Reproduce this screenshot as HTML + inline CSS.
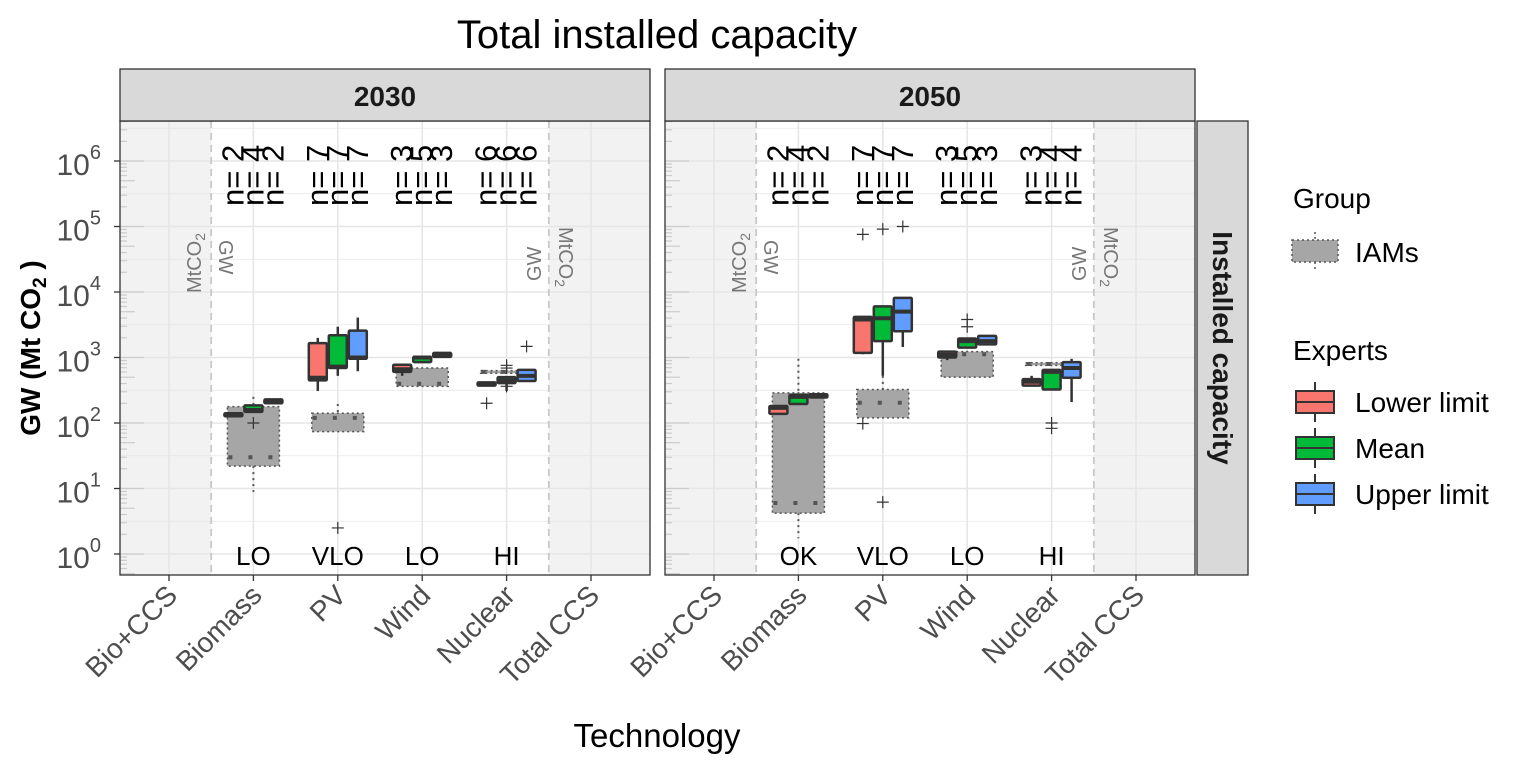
<!DOCTYPE html>
<html><head><meta charset="utf-8"><style>
body{margin:0;background:#fff;}
svg{display:block;font-family:"Liberation Sans",sans-serif;}
</style></head><body>
<svg id="chart" width="1536" height="768" viewBox="0 0 1536 768"></svg>
<script>
const categories=["Bio+CCS","Biomass","PV","Wind","Nuclear","Total CCS"];
const boxCats=["Biomass","PV","Wind","Nuclear"];
const panels=["2030","2050"];
const yTicks=[0,1,2,3,4,5,6];
// [lo,q1,med,q3,hi] per boxCat
const iam2030=[[8.9,22,30,178,251],[74,74,120,141,195],[363,363,398,692,692],[575,575,603,631,631]];
const low2030=[[129,129,135,141,141],[309,447,490,1660,1995],[525,603,661,776,776],[372,372,398,417,417]];
const mean2030=[[148,148,158,186,186],[525,692,724,2188,2951],[851,851,1000,1023,1023],[309,407,447,501,501]];
const up2030=[[200,200,214,229,229],[617,955,1000,2570,4074],[1023,1023,1096,1175,1175],[437,437,525,646,646]];
const iam2050=[[1.74,4.2,6.0,288,955],[120,120,204,324,525],[501,501,1122,1230,1230],[759,759,794,832,832]];
const low2050=[[138,138,170,182,182],[1122,1175,3802,4169,4169],[912,1000,1096,1230,1230],[372,372,427,468,525]];
const mean2050=[[195,195,251,269,269],[525,1778,3981,6026,6026],[1413,1413,1778,1950,1950],[324,324,603,646,646]];
const up2050=[[245,245,263,275,275],[1445,2512,5012,8128,8128],[1585,1585,1778,2138,2138],[209,490,692,851,955]];
// outliers: [panel, cat, series(0 iam,1 low,2 mean,3 up), value]
const outliers=[[0,"Biomass",0,100],[0,"PV",0,2.5],[0,"Nuclear",0,760],[0,"Nuclear",0,690],[0,"Nuclear",0,363],[0,"Nuclear",1,200],[0,"Nuclear",3,1480],
[1,"PV",1,98],[1,"PV",1,75857],[1,"PV",2,91201],[1,"PV",2,6.2],[1,"PV",3,100000],[1,"Wind",0,2951],[1,"Wind",0,3802],[1,"Nuclear",0,100],[1,"Nuclear",0,83]];
const counts2030=[[2,4,2],[7,7,7],[3,5,3],[6,6,6]];
const counts2050=[[2,4,2],[7,7,7],[3,5,3],[3,4,4]];
const ratings2030=["LO","VLO","LO","HI"];
const ratings2050=["OK","VLO","LO","HI"];

const NS="http://www.w3.org/2000/svg";
const svg=document.getElementById('chart');
function mk(tag,attrs,parent,text){const e=document.createElementNS(NS,tag);for(const k in attrs)e.setAttribute(k,attrs[k]);if(text!==undefined)e.textContent=text;(parent||svg).appendChild(e);return e;}
const PT=121,PB=575,panelX=[120,665],PW=530;
function y(v){return 554-Math.log10(v)*65.5;}
function x(p,i){return panelX[p]+49+i*84.4;}
const colors=["#A6A6A6","#F8766D","#00BA38","#619CFF"];
const dodge=[0,-20,0,20];

const t=mk('text',{x:657,y:48,'font-size':40,'text-anchor':'middle',fill:'#000'},svg,'Total installed capacity');


panels.forEach((pn,p)=>{
  const g=mk('g',{});
  
  const L=panelX[p];
  mk('rect',{x:L,y:PT,width:PW,height:PB-PT,fill:'#fff'},g);
  mk('rect',{x:L,y:PT,width:x(p,0.5)-L,height:PB-PT,fill:'#F2F2F2'},g);
  mk('rect',{x:x(p,4.5),y:PT,width:L+PW-x(p,4.5),height:PB-PT,fill:'#F2F2F2'},g);
  for(let d=-0.5;d<=6.5;d+=0.5){const yy=y(Math.pow(10,d));if(yy>PT&&yy<PB)mk('line',{x1:L,x2:L+PW,y1:yy,y2:yy,stroke:'#E6E6E6','stroke-width':d%1===0?1.6:0.8},g);}
  for(let i=0;i<6;i++)mk('line',{x1:x(p,i),x2:x(p,i),y1:PT,y2:PB,stroke:'#E6E6E6','stroke-width':1.6},g);
  for(let d=-1;d<=6;d++)for(let k=1;k<=9;k++){const yy=y(k*Math.pow(10,d));if(yy>PT&&yy<PB){const len=k===1?24:(k===5?15:7);mk('line',{x1:L,x2:L+len,y1:yy,y2:yy,stroke:'#CCCCCC','stroke-width':1.2},g);}}
  mk('line',{x1:x(p,0.5),x2:x(p,0.5),y1:PT,y2:PB,stroke:'#C8C8C8','stroke-width':1.8,'stroke-dasharray':'7,5'},g);
  mk('line',{x1:x(p,4.5),x2:x(p,4.5),y1:PT,y2:PB,stroke:'#C8C8C8','stroke-width':1.8,'stroke-dasharray':'7,5'},g);
  const xl=x(p,0.5),xr=x(p,4.5);
  let e=mk('text',{transform:`translate(${xl-10},293) rotate(-90)`,'font-size':20,fill:'#777'},g);e.innerHTML='MtCO<tspan font-size="14" dy="4">2</tspan>';
  mk('text',{transform:`translate(${xl+8},240) rotate(90)`,'font-size':20,fill:'#777'},g,'GW');
  mk('text',{transform:`translate(${xr-8},281) rotate(-90)`,'font-size':20,fill:'#777'},g,'GW');
  e=mk('text',{transform:`translate(${xr+10},227) rotate(90)`,'font-size':20,fill:'#777'},g);e.innerHTML='MtCO<tspan font-size="14" dy="4">2</tspan>';
  const sets=p===0?[iam2030,low2030,mean2030,up2030]:[iam2050,low2050,mean2050,up2050];
  const counts=p===0?counts2030:counts2050;
  const ratings=p===0?ratings2030:ratings2050;
  boxCats.forEach((c,ci)=>{
    const cx=x(p,categories.indexOf(c));
    sets.forEach((set,s)=>{
      const [lo,q1,md,q3,hi]=set[ci];
      const bx=cx+dodge[s];const w=s===0?52:18;
      const bg=mk('g',{},g);
      
      
      if(s===0){
        mk('line',{x1:bx,x2:bx,y1:y(hi),y2:y(q3),stroke:'#555','stroke-width':2,'stroke-dasharray':'2,4'},bg);
        mk('line',{x1:bx,x2:bx,y1:y(q1),y2:y(lo),stroke:'#555','stroke-width':2,'stroke-dasharray':'2,4'},bg);
        mk('rect',{x:bx-w/2,y:y(q3),width:w,height:Math.max(2,y(q1)-y(q3)),fill:'#A6A6A6',stroke:'#555','stroke-width':1.5,'stroke-dasharray':'2,3'},bg);
        mk('line',{x1:bx-w/2,x2:bx+w/2,y1:y(md),y2:y(md),stroke:'#555','stroke-width':4,'stroke-dasharray':'4,16','stroke-dashoffset':'-1'},bg);
      }else{
        mk('line',{x1:bx,x2:bx,y1:y(hi),y2:y(lo),stroke:'#333','stroke-width':2.5},bg);
        mk('rect',{x:bx-w/2,y:y(q3),width:w,height:Math.max(3,y(q1)-y(q3)),fill:colors[s],stroke:'#333','stroke-width':2.5,rx:1},bg);
        mk('line',{x1:bx-w/2,x2:bx+w/2,y1:y(md),y2:y(md),stroke:'#333','stroke-width':4},bg);
      }
      if(s>0){
        const n=counts[ci][s-1];
        const tx=mk('text',{transform:`translate(${bx+10},206) rotate(-90)`,'font-size':31,fill:'#000'},g,'n= '+n);
        
      }
    });
    const r=mk('text',{x:cx,y:565,'font-size':26,'text-anchor':'middle',fill:'#000'},g,ratings[ci]);
    
  });
  outliers.filter(o=>o[0]===p).forEach(o=>{
    const ox=x(p,categories.indexOf(o[1]))+dodge[o[2]],oy=y(o[3]);
    const pt=mk('path',{d:`M${ox-6},${oy}H${ox+6}M${ox},${oy-6}V${oy+6}`,stroke:'#333','stroke-width':1.2},g);
    
  });
  mk('rect',{x:L,y:PT,width:PW,height:PB-PT,fill:'none',stroke:'#333','stroke-width':1.3},g);
  mk('rect',{x:L,y:69,width:PW,height:52,fill:'#D9D9D9',stroke:'#333','stroke-width':1.3},g);
  const st=mk('text',{x:L+PW/2,y:106,'font-size':28,'font-weight':'bold','text-anchor':'middle',fill:'#1A1A1A'},g,pn);
  
  categories.forEach((c,i)=>{
    mk('line',{x1:x(p,i),x2:x(p,i),y1:PB,y2:PB+6,stroke:'#333','stroke-width':1.3},g);
    const tl=mk('text',{transform:`translate(${x(p,i)+10},${PB+22}) rotate(-45)`,'font-size':28,'text-anchor':'end',fill:'#4D4D4D'},g,c);
    
  });
});
mk('rect',{x:1197,y:PT,width:51,height:PB-PT,fill:'#D9D9D9',stroke:'#333','stroke-width':1.3});
const rs=mk('text',{transform:`translate(1213,348) rotate(90)`,'font-size':28,'font-weight':'bold','text-anchor':'middle',fill:'#1A1A1A'},svg,'Installed capacity');

yTicks.forEach(d=>{
  const yy=y(Math.pow(10,d));
  mk('line',{x1:114,x2:120,y1:yy,y2:yy,stroke:'#333','stroke-width':1.3});
  const tl=mk('text',{x:101,y:yy+14,'font-size':30,'text-anchor':'end',fill:'#4D4D4D'});
  tl.innerHTML='10<tspan font-size="20" dy="-16">'+d+'</tspan>';
  
});
const yt=mk('text',{transform:'translate(40,348) rotate(-90)','font-size':28,'font-weight':'bold','text-anchor':'middle',fill:'#000'});
yt.innerHTML='GW (Mt CO<tspan font-size="19" dy="6">2</tspan><tspan dy="-6"> )</tspan>';

const xt=mk('text',{x:657,y:747,'font-size':33,'text-anchor':'middle',fill:'#000'},svg,'Technology');

const lg=mk('g',{});
mk('text',{x:1293,y:208,'font-size':28,fill:'#000'},lg,'Group');
mk('line',{x1:1315,x2:1315,y1:232,y2:270,stroke:'#555','stroke-width':1.5,'stroke-dasharray':'2,3'},lg);
mk('rect',{x:1292,y:240,width:46,height:22,fill:'#A6A6A6',stroke:'#555','stroke-width':1.5,'stroke-dasharray':'2,3'},lg);
mk('text',{x:1355,y:262,'font-size':28,fill:'#000'},lg,'IAMs');
mk('text',{x:1293,y:360,'font-size':28,fill:'#000'},lg,'Experts');
["Lower limit","Mean","Upper limit"].forEach((n,i)=>{
  const cy=402+i*46;
  const e=mk('g',{},lg);
  mk('line',{x1:1315,x2:1315,y1:cy-20,y2:cy+20,stroke:'#333','stroke-width':2},e);
  mk('rect',{x:1296,y:cy-11,width:38,height:22,fill:colors[i+1],stroke:'#333','stroke-width':2},e);
  mk('line',{x1:1296,x2:1334,y1:cy,y2:cy,stroke:'#333','stroke-width':2},e);
  mk('text',{x:1355,y:cy+10,'font-size':28,fill:'#000'},e,n);
});
</script>
</body></html>
